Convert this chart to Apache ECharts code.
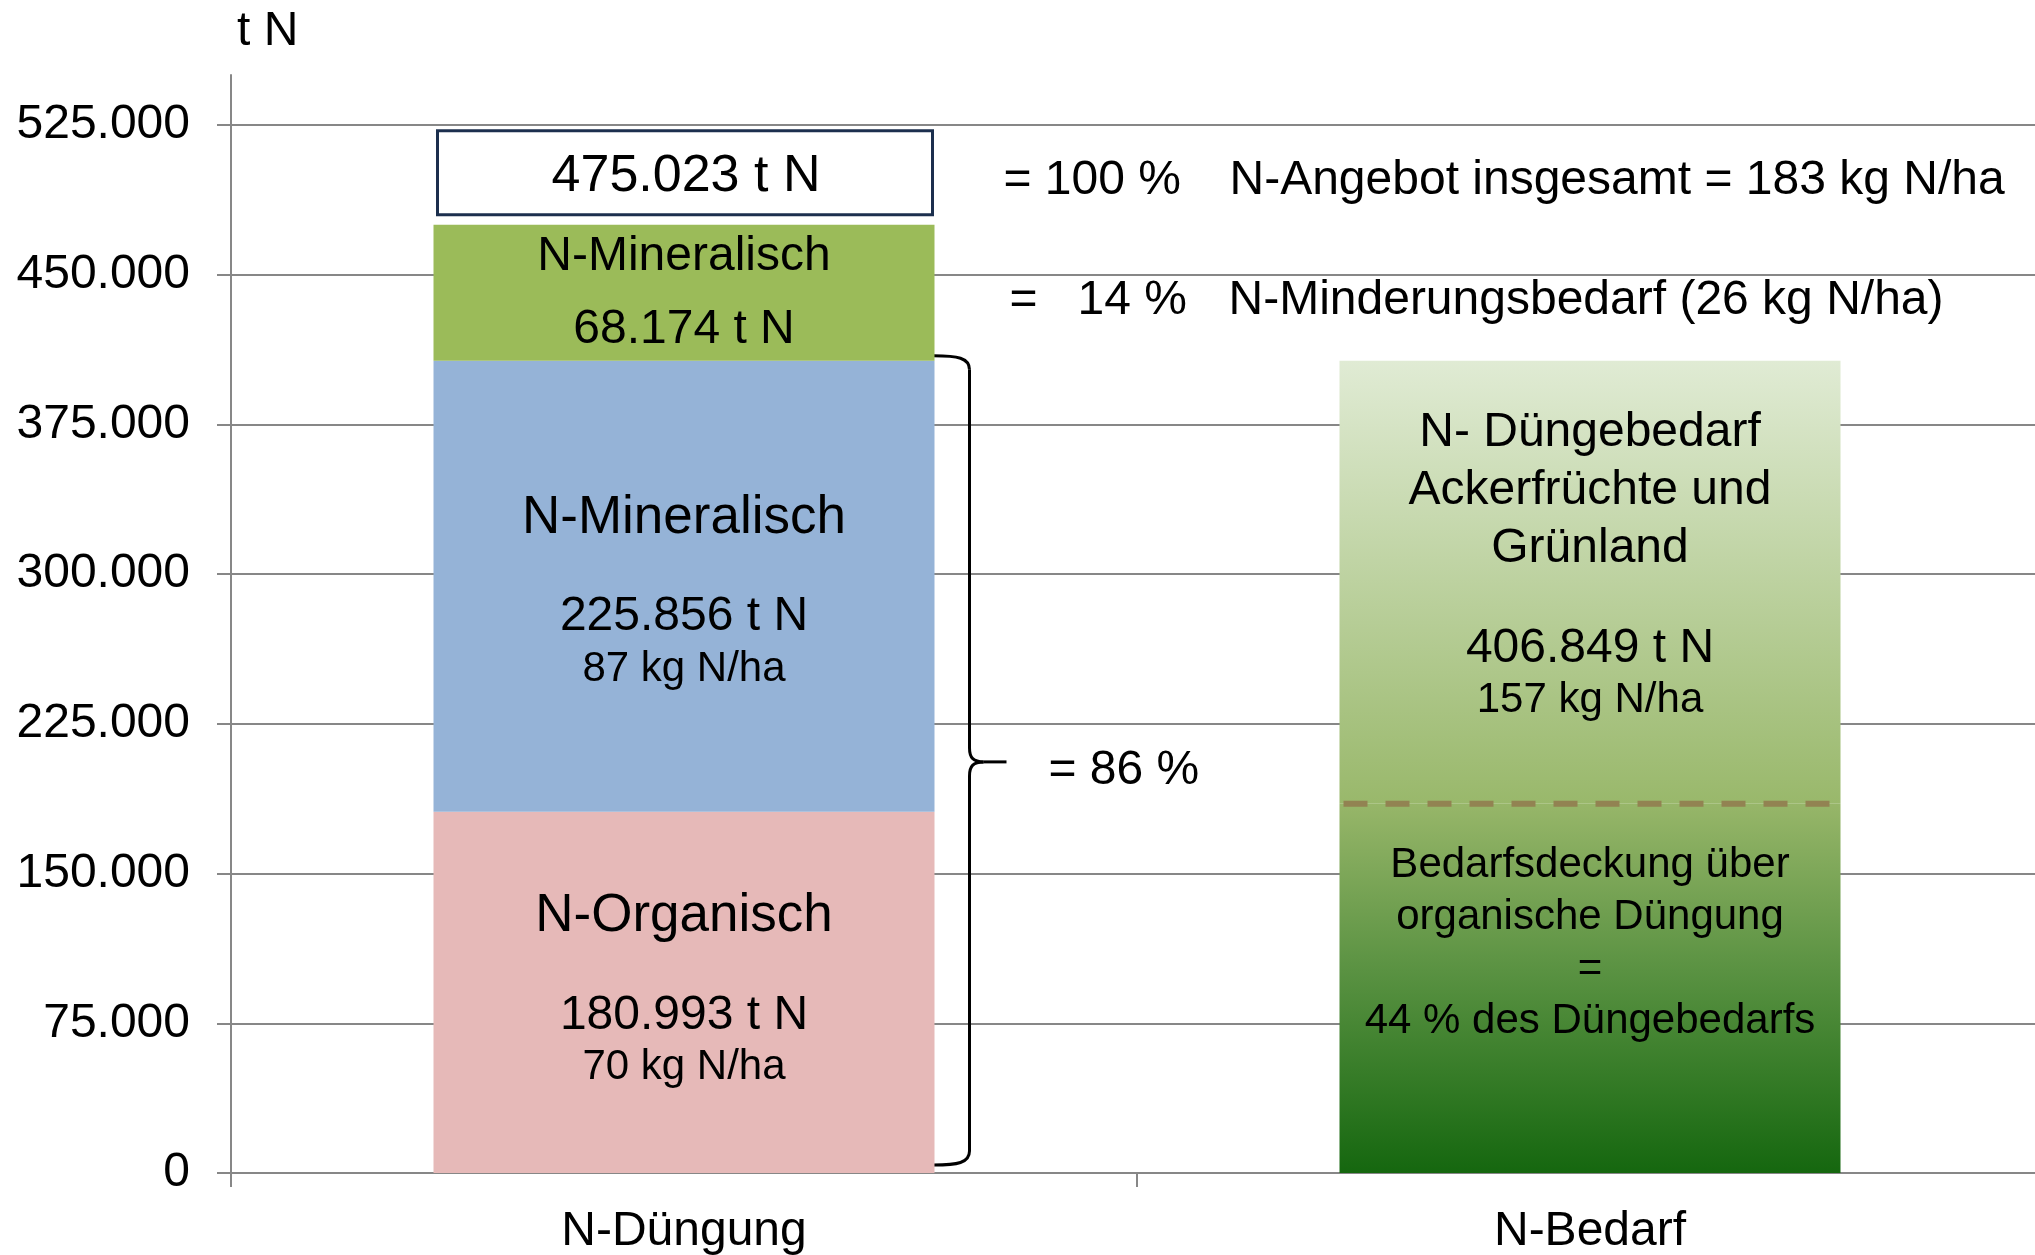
<!DOCTYPE html>
<html><head><meta charset="utf-8">
<script src="https://cdn.jsdelivr.net/npm/echarts@6/dist/echarts.min.js"></script>
<style>html,body{margin:0;padding:0;background:#fff}#c{width:2035px;height:1255px}</style>
</head><body><div id="c"></div>
<script>
// ---- data ----
const categories = ['N-Düngung', 'N-Bedarf'];
const organischValues = [180993, '-'];
const mineralischValues = [225856, '-'];
const mineralischMinderungValues = [68174, '-'];
const bedarfTotal = 406849;
const bedarfDeckungValue = 185000;          // dashed line position
const yTickValues = [0, 75000, 150000, 225000, 300000, 375000, 450000, 525000];
const kgPerHa = { organisch: 70, mineralisch: 87, angebot: 183, minderung: 26, bedarf: 157 };
const percentValues = { total: 100, minderung: 14, bracket: 86, deckung: 44 };

// ---- helpers ----
const FONT = '"Liberation Sans", Arial, Helvetica, sans-serif';
function fmt(v) { return String(v).replace(/\B(?=(\d{3})+(?!\d))/g, '.'); }
const total = organischValues[0] + mineralischValues[0] + mineralischMinderungValues[0];
const bracketValue = organischValues[0] + mineralischValues[0];
const bedarfRest = ['-', bedarfTotal - bedarfDeckungValue];
const bedarfDeckung = ['-', bedarfDeckungValue];
const BAR_W = 501;

const chart = echarts.init(document.getElementById('c'), null, { renderer: 'canvas' });

const baseLabel = { show: true, color: '#000', fontFamily: FONT, textBorderWidth: 0 };

chart.setOption({
  animation: false,
  backgroundColor: '#fff',
  textStyle: { fontFamily: FONT },
  grid: { left: 231, width: 1812, top: 75, bottom: 82, containLabel: false, outerBoundsMode: 'none' },
  xAxis: {
    type: 'category',
    data: categories,
    axisLine: { show: true, lineStyle: { color: '#878787', width: 2 } },
    axisTick: { show: true, length: 14, alignWithLabel: false, interval: 0, lineStyle: { color: '#878787', width: 2 } },
    axisLabel: { color: '#000', fontSize: 48, fontFamily: FONT, margin: 35, interval: 0 },
    splitLine: { show: false }
  },
  yAxis: {
    type: 'value',
    min: 0, max: 550000, interval: 75000,
    name: 't N',
    nameLocation: 'end',
    nameGap: 43,
    nameTextStyle: { color: '#000', fontSize: 48, fontFamily: FONT, align: 'left', verticalAlign: 'middle', padding: [0, 0, 0, 6] },
    axisLine: { show: true, lineStyle: { color: '#878787', width: 2 } },
    axisTick: { show: true, length: 14, inside: false, customValues: yTickValues, lineStyle: { color: '#878787', width: 2 } },
    axisLabel: { color: '#000', fontSize: 48, fontFamily: FONT, margin: 41, customValues: yTickValues,
                 formatter: v => fmt(v) },
    splitLine: { show: true, lineStyle: { color: '#878787', width: 2 } }
  },
  series: [
    {
      name: 'N-Organisch', type: 'bar', stack: 'n', barWidth: BAR_W, data: organischValues,
      itemStyle: { color: '#e6b9b8' }, emphasis: { disabled: true }, silent: true,
      label: Object.assign({}, baseLabel, {
        position: 'inside', offset: [0, -24],
        formatter: () => `{a|N-Organisch}\n{b|${fmt(organischValues[0])} t N}\n{c|${kgPerHa.organisch} kg N/ha}`,
        rich: {
          a: { fontSize: 53, lineHeight: 146, color: '#000', fontFamily: FONT },
          b: { fontSize: 48, lineHeight: 52, color: '#000', fontFamily: FONT },
          c: { fontSize: 42, lineHeight: 52, color: '#000', fontFamily: FONT }
        }
      })
    },
    {
      name: 'N-Mineralisch', type: 'bar', stack: 'n', barWidth: BAR_W, data: mineralischValues,
      itemStyle: { color: '#95b3d7' }, emphasis: { disabled: true }, silent: true,
      label: Object.assign({}, baseLabel, {
        position: 'inside', offset: [0, -16],
        formatter: () => `{a|N-Mineralisch}\n{b|${fmt(mineralischValues[0])} t N}\n{c|${kgPerHa.mineralisch} kg N/ha}`,
        rich: {
          a: { fontSize: 53, lineHeight: 146, color: '#000', fontFamily: FONT },
          b: { fontSize: 48, lineHeight: 52, color: '#000', fontFamily: FONT },
          c: { fontSize: 42, lineHeight: 52, color: '#000', fontFamily: FONT }
        }
      })
    },
    {
      name: 'N-Mineralisch (Minderung)', type: 'bar', stack: 'n', barWidth: BAR_W, data: mineralischMinderungValues,
      itemStyle: { color: '#9bbb59' }, emphasis: { disabled: true }, silent: true,
      label: Object.assign({}, baseLabel, {
        position: 'inside', offset: [0, 1], fontSize: 48, lineHeight: 73,
        formatter: () => `N-Mineralisch\n${fmt(mineralischMinderungValues[0])} t N`
      })
    },
    {
      name: 'Bedarfsdeckung organisch', type: 'bar', stack: 'n', barWidth: BAR_W, data: bedarfDeckung,
      emphasis: { disabled: true }, silent: true,
      itemStyle: { color: new echarts.graphic.LinearGradient(0, 0, 0, 1, [
        { offset: 0, color: '#97b669' }, { offset: 0.45, color: '#5a9242' }, { offset: 1, color: '#15670f' }]) },
      label: Object.assign({}, baseLabel, {
        position: 'insideTop', distance: 36, fontSize: 42, lineHeight: 52,
        formatter: () => `Bedarfsdeckung über\norganische Düngung\n=\n${percentValues.deckung} % des Düngebedarfs`
      })
    },
    {
      name: 'N-Düngebedarf', type: 'bar', stack: 'n', barWidth: BAR_W, data: bedarfRest,
      emphasis: { disabled: true }, silent: true,
      itemStyle: { color: new echarts.graphic.LinearGradient(0, 0, 0, 1, [
        { offset: 0, color: '#e0ebd4' }, { offset: 1, color: '#99b86b' }]) },
      label: Object.assign({}, baseLabel, {
        position: 'insideTop', distance: 43,
        formatter: () => `{h|N- Düngebedarf}\n{h|Ackerfrüchte und}\n{h|Grünland}\n{sp| }\n{b|${fmt(bedarfTotal)} t N}\n{c|${kgPerHa.bedarf} kg N/ha}`,
        rich: {
          h: { fontSize: 48, lineHeight: 58, color: '#000', fontFamily: FONT },
          sp: { fontSize: 10, lineHeight: 45 },
          b: { fontSize: 48, lineHeight: 52, color: '#000', fontFamily: FONT },
          c: { fontSize: 42, lineHeight: 52, color: '#000', fontFamily: FONT }
        }
      })
    }
  ]
});

// ---- annotations positioned through the chart's own scales ----
function px(catIdx, v) { return chart.convertToPixel({ gridIndex: 0 }, [catIdx, v]); }
const c0 = px(0, 0)[0], c1 = px(1, 0)[0];
const barRight0 = c0 + BAR_W / 2;
const yTotal = px(0, total)[1];
const yGreenMid = px(0, (bracketValue + total) / 2)[1];
const yBrTop = px(0, bracketValue)[1] - 5;
const yBrBot = px(0, 0)[1] - 8;
const yBrMid = px(0, bracketValue / 2)[1] - 5;
const yDash = px(1, bedarfDeckungValue)[1];

const x0 = barRight0 - 1, x1 = x0 + 36, xt = x0 + 73;
const stroke = { stroke: '#000', lineWidth: 3, fill: null };
function txt(x, y, s, size, align) {
  return { type: 'text', x: x, y: y, silent: true, z: 20,
    style: { text: s, fill: '#000', font: `${size}px ${FONT}`, textAlign: align || 'left', textVerticalAlign: 'middle' } };
}
chart.setOption({
  graphic: [
    // total box above the stacked bar
    { type: 'rect', silent: true, z: 15,
      shape: { x: c0 - BAR_W / 2 + 4, y: yTotal - 94, width: BAR_W - 6, height: 84 },
      style: { fill: '#fff', stroke: '#1c2f4e', lineWidth: 3 } },
    txt(c0 + 2, yTotal - 48, `${fmt(total)} t N`, 52, 'center'),
    // curly brace
    { type: 'bezierCurve', silent: true, shape: { x1: x0, y1: yBrTop, cpx1: x0 + 24, cpy1: yBrTop, cpx2: x1, cpy2: yBrTop + 2, x2: x1, y2: yBrTop + 14 }, style: stroke },
    { type: 'line', silent: true, shape: { x1: x1, y1: yBrTop + 14, x2: x1, y2: yBrMid - 14 }, style: stroke },
    { type: 'bezierCurve', silent: true, shape: { x1: x1, y1: yBrMid - 14, cpx1: x1, cpy1: yBrMid - 4, cpx2: x1 + 4, cpy2: yBrMid, x2: x1 + 14, y2: yBrMid }, style: stroke },
    { type: 'bezierCurve', silent: true, shape: { x1: x1 + 14, y1: yBrMid, cpx1: x1 + 4, cpy1: yBrMid, cpx2: x1, cpy2: yBrMid + 4, x2: x1, y2: yBrMid + 14 }, style: stroke },
    { type: 'line', silent: true, shape: { x1: x1 + 14, y1: yBrMid, x2: xt, y2: yBrMid }, style: stroke },
    { type: 'line', silent: true, shape: { x1: x1, y1: yBrMid + 14, x2: x1, y2: yBrBot - 14 }, style: stroke },
    { type: 'bezierCurve', silent: true, shape: { x1: x1, y1: yBrBot - 14, cpx1: x1, cpy1: yBrBot - 2, cpx2: x0 + 24, cpy2: yBrBot, x2: x0, y2: yBrBot }, style: stroke },
    // dashed split line in the demand bar
    { type: 'line', silent: true, z: 10,
      shape: { x1: c1 - BAR_W / 2 + 4, y1: yDash, x2: c1 + BAR_W / 2 - 4, y2: yDash },
      style: { stroke: '#928352', lineWidth: 6, lineDash: [24, 18] } },
    // texts on the right
    txt(barRight0 + 69, yTotal - 44, `= ${percentValues.total} %`, 48),
    txt(barRight0 + 295, yTotal - 44, `N-Angebot insgesamt = ${kgPerHa.angebot} kg N/ha`, 48),
    txt(barRight0 + 75, yGreenMid + 8, '=', 48),
    txt(barRight0 + 143, yGreenMid + 8, `${percentValues.minderung} %`, 48),
    txt(barRight0 + 294, yGreenMid + 8, `N-Minderungsbedarf (${kgPerHa.minderung} kg N/ha)`, 48),
    txt(barRight0 + 114, yBrMid + 9, `= ${percentValues.bracket} %`, 48)
  ]
});
</script>
</body></html>
